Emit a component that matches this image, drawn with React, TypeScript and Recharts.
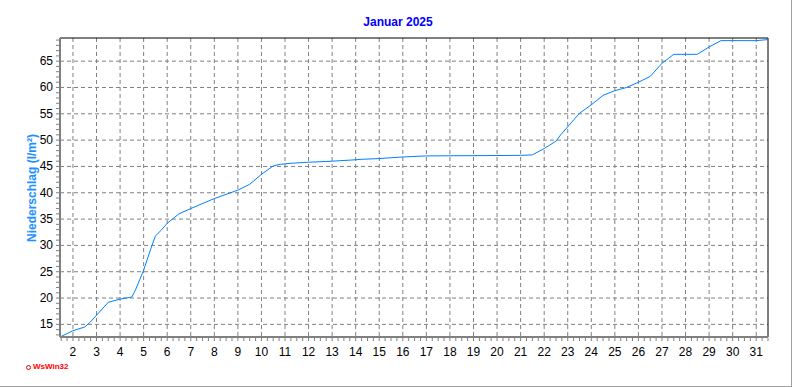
import React from 'react'
import {
  LineChart,
  Line,
  XAxis,
  YAxis,
  CartesianGrid,
  ReferenceLine
} from 'recharts'

// time in days of January (x), cumulative rain in l/m² (y)
const days = [
  1.45, 2.0, 2.5, 2.75, 3.5, 4.0, 4.5, 4.65, 5.0, 5.3, 5.5, 5.75, 6.0, 6.5, 7.0,
  8.0, 9.0, 9.5, 10.0, 10.5, 10.8, 11.25, 12.0, 13.0, 13.75, 14.25, 15.0, 16.0,
  17.0, 21.0, 21.5, 22.0, 22.5, 22.7, 23.5, 24.0, 24.5, 25.0, 25.5, 26.0, 26.5,
  27.0, 27.5, 28.5, 29.0, 29.5, 31.0, 31.5
]
const rain = [
  12.6, 13.8, 14.5, 15.5, 19.2, 19.8, 20.2, 21.5, 25.3, 29.3, 31.8, 32.9, 34.2,
  36.0, 37.0, 38.9, 40.5, 41.6, 43.5, 45.1, 45.4, 45.6, 45.8, 46.0, 46.2, 46.35,
  46.5, 46.8, 47.0, 47.1, 47.2, 48.4, 49.8, 51.0, 55.1, 56.7, 58.5, 59.4, 60.0,
  61.0, 62.1, 64.6, 66.3, 66.3, 67.7, 68.9, 68.9, 69.1
]

const dayTicks = [
  2, 3, 4, 5, 6, 7, 8, 9, 10, 11, 12, 13, 14, 15, 16, 17, 18, 19, 20, 21, 22, 23,
  24, 25, 26, 27, 28, 29, 30, 31
]
const yTicks = [15, 20, 25, 30, 35, 40, 45, 50, 55, 60, 65]

// minor ticks: every 6 hours on x, every 1 l/m² on y
const xMinor = Array.from({ length: 121 }, (_, i) => 1.5 + i * 0.25)
const yMinor = Array.from({ length: 57 }, (_, i) => 13 + i)

const xDomain = [1.45, 31.5]
const yDomain = [12.6, 69.4]

const data = days.map((d, i) => ({ day: d, rain: rain[i] }))

const font = '"Liberation Sans", Arial, sans-serif'
const axisGray = '#808080'

const XTick = (props: any) => {
  const { x, y, payload } = props
  const v = payload.value
  const isDay = Math.abs(v - Math.round(v)) < 0.001
  return (
    <g>
      <line x1={x} x2={x} y1={y + 1} y2={y + 4} stroke={axisGray} />
      {isDay && (
        <text x={x} y={y + 19} textAnchor="middle" fontSize={12} fill="#000" fontFamily={font}>
          {Math.round(v)}
        </text>
      )}
    </g>
  )
}

const YTick = (props: any) => {
  const { x, y, payload } = props
  const v = payload.value
  const isMajor = v % 5 === 0
  return (
    <g>
      <line x1={x - 4} x2={x - 1} y1={y} y2={y} stroke={axisGray} />
      {isMajor && (
        <text x={x - 7} y={y + 4} textAnchor="end" fontSize={12} fill="#000" fontFamily={font}>
          {v}
        </text>
      )}
    </g>
  )
}

export default function App() {
  return (
    <div
      style={{
        position: 'absolute',
        left: 0,
        top: 0,
        width: 792,
        height: 387,
        background: '#fff',
        borderRight: '1px solid #a0a0a0',
        borderBottom: '1px solid #a0a0a0',
        boxSizing: 'border-box',
        fontFamily: font
      }}
    >
      <div
        style={{
          position: 'absolute',
          top: 14,
          left: 0,
          width: 796,
          textAlign: 'center',
          color: '#0000ff',
          fontWeight: 'bold',
          fontSize: 12,
          lineHeight: '16px'
        }}
      >
        Januar 2025
      </div>
      <div
        style={{
          position: 'absolute',
          left: 32,
          top: 188,
          transform: 'translate(-50%, -50%) rotate(-90deg)',
          whiteSpace: 'nowrap',
          color: '#1e90ff',
          fontWeight: 'bold',
          fontSize: 12
        }}
      >
        Niederschlag (l/m²)
      </div>
      <div
        style={{
          position: 'absolute',
          left: 26,
          top: 362,
          color: '#ff0000',
          fontWeight: 'bold',
          fontSize: 8,
          lineHeight: '10px',
          display: 'flex',
          alignItems: 'center',
          gap: 2
        }}
      >
        <span
          style={{
            display: 'inline-block',
            width: 3,
            height: 3,
            border: '1.5px solid #ff0000',
            borderRadius: '50%'
          }}
        />
        WsWin32
      </div>
      <div style={{ position: 'absolute', left: 0, top: 0 }}>
        <LineChart
          width={792}
          height={387}
          data={data}
          margin={{ top: 38, right: 24, left: 0, bottom: 0 }}
        >
          <CartesianGrid
            stroke={axisGray}
            strokeDasharray="4 3"
            verticalValues={dayTicks}
            horizontalValues={yTicks}
          />
          <XAxis
            dataKey="day"
            type="number"
            domain={xDomain}
            ticks={xMinor}
            interval={0}
            allowDataOverflow
            height={50}
            tickSize={0}
            tickMargin={0}
            tickLine={false}
            axisLine={{ stroke: axisGray, strokeWidth: 2 }}
            tick={<XTick />}
          />
          <YAxis
            type="number"
            domain={yDomain}
            ticks={yMinor}
            interval={0}
            allowDataOverflow
            width={60}
            tickSize={0}
            tickMargin={0}
            tickLine={false}
            axisLine={{ stroke: axisGray, strokeWidth: 2 }}
            tick={<YTick />}
          />
          <ReferenceLine y={yDomain[1]} stroke="#000" strokeWidth={1} />
          <ReferenceLine x={xDomain[1]} stroke="#000" strokeWidth={1} />
          <Line
            type="linear"
            dataKey="rain"
            stroke="#0080ff"
            strokeWidth={1}
            dot={false}
            activeDot={false}
            isAnimationActive={false}
          />
        </LineChart>
      </div>
    </div>
  )
}
